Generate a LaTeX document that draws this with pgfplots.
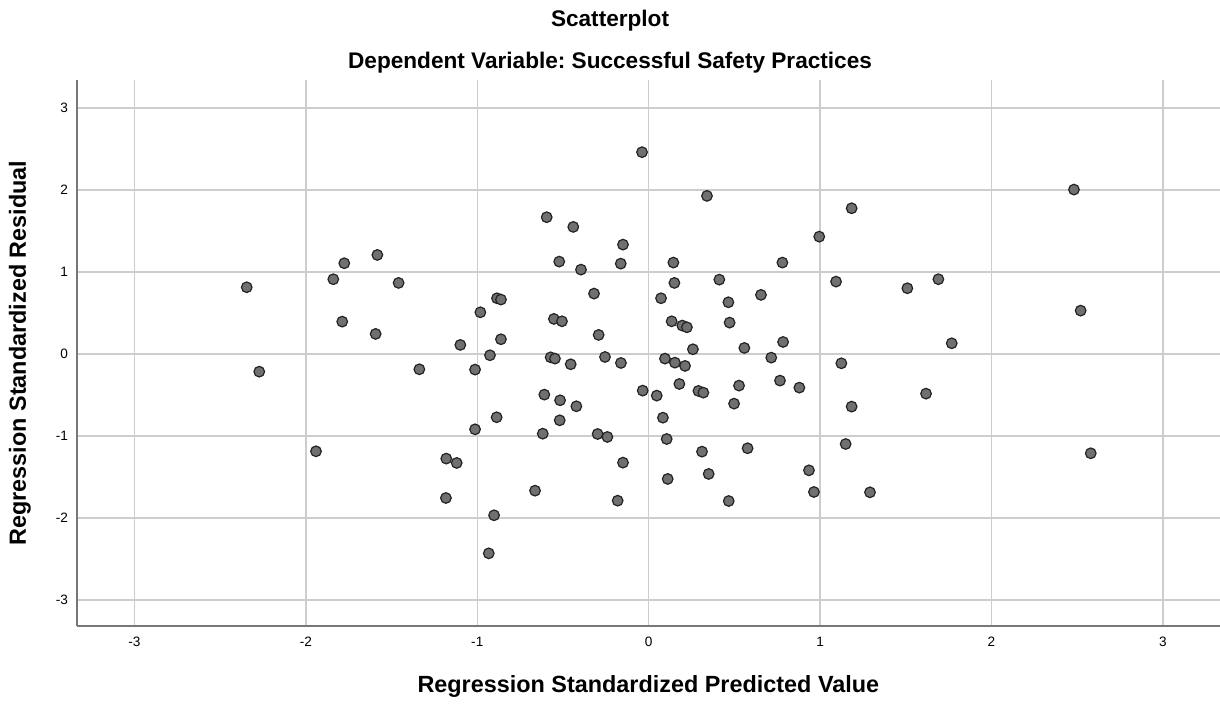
\documentclass[border=0pt]{standalone}
\usepackage{pgfplots}
\pgfplotsset{compat=1.18}
\usepackage{fontspec}
\setmainfont{Liberation Sans}
\frenchspacing
\definecolor{gridc}{RGB}{205,205,205}
\definecolor{axc}{RGB}{120,120,120}
\definecolor{ptfill}{RGB}{112,112,112}
\definecolor{ptdraw}{RGB}{35,35,35}
\begin{document}
\begin{tikzpicture}
\path[use as bounding box] (-38.35pt,-38.5pt) rectangle (571.65pt,313pt);
\begin{axis}[
  at={(0,0)}, anchor=south west,
  scale only axis, width=571.65pt, height=273pt,
  xmin=-3.337, xmax=3.333, ymin=-3.317, ymax=3.34,
  xtick={-3,...,3}, ytick={-3,...,3},
  axis x line*=bottom, axis y line*=left,
  axis line style={draw=axc, line width=0.9pt, -},
  major tick length=0pt,
  tick style={draw=none},
  grid=major,
  major grid style={draw=gridc, line width=0.75pt},
  /pgf/number format/assume math mode=true,
  ticklabel style={font=\fontsize{6.8}{7.5}\selectfont, inner sep=0pt},
  xticklabel style={anchor=north, yshift=-5.5pt},
  yticklabel style={anchor=east, xshift=-4.2pt},
  xlabel={Regression Standardized Predicted Value},
  ylabel={Regression Standardized Residual},
  label style={font=\fontsize{11.7}{13}\selectfont\bfseries},
  xlabel style={at={(axis description cs:0.5,0)}, anchor=center, yshift=-30pt},
  ylabel style={at={([xshift=-28.35pt]axis description cs:0,0.5)}, anchor=center},
  clip=false,
]
\addplot[only marks, mark=*, mark size=2.65pt,
  mark options={fill=ptfill, draw=ptdraw, line width=0.6pt}] table {
x y
-2.345 0.813
-2.272 -0.216
-1.840 0.911
-1.776 1.106
-1.583 1.207
-1.459 0.866
-1.788 0.394
-1.593 0.244
-1.099 0.110
-1.338 -0.187
-1.941 -1.187
-1.181 -1.276
-1.120 -1.329
-1.183 -1.756
-1.013 -0.191
-0.982 0.508
-0.926 -0.016
-0.885 0.679
-0.862 0.663
-0.862 0.179
-0.595 1.667
-0.440 1.549
-0.150 1.333
-0.522 1.126
-0.395 1.028
-0.163 1.101
-0.319 0.736
-0.553 0.427
-0.506 0.398
-0.292 0.232
-0.572 -0.041
-0.547 -0.057
-0.455 -0.126
-0.255 -0.037
-0.162 -0.110
-0.039 2.460
0.340 1.927
0.995 1.430
0.144 1.114
0.780 1.114
0.150 0.866
0.412 0.906
0.072 0.679
0.465 0.630
0.655 0.720
0.134 0.398
0.196 0.346
0.223 0.325
0.472 0.382
0.258 0.057
0.558 0.073
0.784 0.146
0.095 -0.057
0.153 -0.106
0.212 -0.146
0.715 -0.045
-0.035 -0.447
0.047 -0.508
0.179 -0.366
0.290 -0.451
0.319 -0.472
0.527 -0.386
0.498 -0.606
0.766 -0.325
0.879 -0.411
-0.609 -0.496
-0.517 -0.565
-0.422 -0.638
-0.519 -0.809
-0.887 -0.772
-1.013 -0.919
-0.618 -0.972
-0.298 -0.976
-0.241 -1.012
0.083 -0.777
0.105 -1.037
-0.150 -1.325
0.111 -1.524
0.311 -1.191
0.350 -1.463
0.577 -1.150
0.467 -1.793
-0.181 -1.789
-0.663 -1.667
-0.902 -1.967
-0.933 -2.431
0.935 -1.419
0.964 -1.683
1.184 1.776
1.093 0.882
1.509 0.801
1.690 0.911
1.768 0.130
1.124 -0.114
2.481 2.004
2.520 0.528
1.618 -0.484
1.184 -0.642
1.149 -1.098
1.291 -1.687
2.579 -1.211
};
\node[font=\fontsize{11.3}{12.5}\selectfont\bfseries] at (axis description cs:0.4665,1.108) {Scatterplot};
\node[font=\fontsize{11.3}{12.5}\selectfont\bfseries] at (axis description cs:0.4665,1.031) {Dependent Variable: Successful Safety Practices};
\end{axis}
\end{tikzpicture}
\end{document}
